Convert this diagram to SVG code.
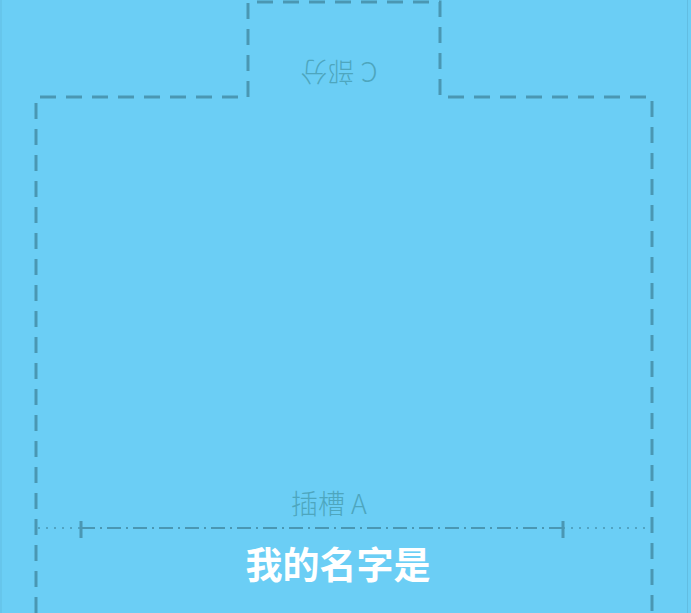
<svg xmlns="http://www.w3.org/2000/svg" width="691" height="613" viewBox="0 0 691 613">
<style>
.outline{fill:none;stroke:#4a97b3;stroke-width:3;stroke-dasharray:16 10}
.muted{font-family:"Noto Sans CJK SC","Noto Sans",sans-serif;font-size:27px;font-weight:300;fill:#4ea6be;text-anchor:middle}
.title{font-family:"Noto Sans CJK SC","Noto Sans",sans-serif;font-size:37px;font-weight:bold;fill:#ffffff;text-anchor:middle}
.dot{stroke:#4a97b3;stroke-width:1.5;stroke-dasharray:2 6;fill:none}
.dashdot{stroke:#4a97b3;stroke-width:2;stroke-dasharray:14 5 2 5;fill:none}
.tick{stroke:#4a97b3;stroke-width:3}
</style>
<rect x="0" y="0" width="691" height="613" fill="#6bcef5"/>
<line x1="1" y1="0" x2="1" y2="613" stroke="#62bde2" stroke-width="1"/>
<line x1="687.5" y1="0" x2="687.5" y2="613" stroke="#62bde2" stroke-width="1"/>
<g id="slot-outline">
<path class="outline" d="M36,613 V97 H248 V2 H440 V97 H652 V613"/>
</g>
<g id="part-c">
<text class="muted" transform="rotate(180 339 71)" x="339" y="80">C 部分</text>
</g>
<g id="slot-a">
<text class="muted" x="329" y="514">插槽 A</text>
</g>
<g id="connectors">
<line class="dot" x1="38" y1="528" x2="81" y2="528"/>
<line class="dashdot" x1="81" y1="528" x2="563" y2="528"/>
<line class="dot" x1="563" y1="528" x2="650" y2="528"/>
<line class="tick" x1="81" y1="521" x2="81" y2="538"/>
<line class="tick" x1="563" y1="521" x2="563" y2="538"/>
</g>
<g id="name-label">
<text class="title" x="338" y="579">我的名字是</text>
</g>
</svg>
